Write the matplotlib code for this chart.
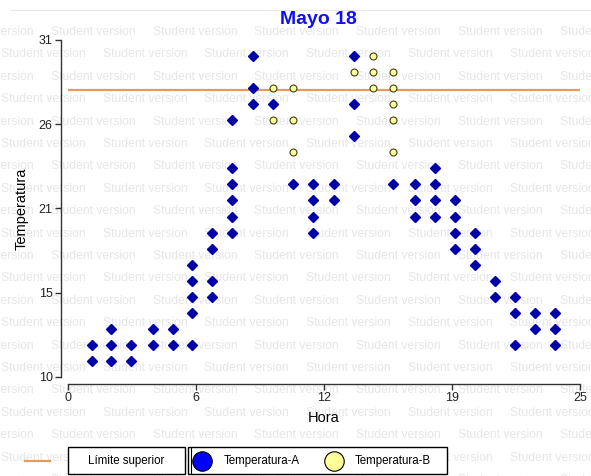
import numpy as np
import matplotlib
matplotlib.use("Agg")
import matplotlib.pyplot as plt
from matplotlib.lines import Line2D
from matplotlib.patches import Rectangle

plt.rcParams['font.family'] = ['Liberation Sans', 'DejaVu Sans']

# hora de cada grupo de lecturas
hora = [1.16, 2.10, 3.08, 4.14, 5.11, 6.07, 7.05, 8.02, 9.02, 9.99, 10.97, 11.98,
        12.99, 13.96, 14.91, 15.88, 16.93, 17.90, 18.88, 19.86, 20.83, 21.84, 22.82, 23.79]

# Temperatura-A, lecturas por hora
temp_a = [[11, 12], [11, 12, 13], [11, 12], [12, 13], [12, 13],
          [12, 14, 15, 16, 17], [15, 16, 18, 19], [19, 20, 21, 22, 23, 26],
          [27, 28, 30], [27], [22], [19, 20, 21, 22], [21, 22], [25, 27, 30],
          [], [22], [20, 21, 22], [20, 21, 22, 23], [18, 19, 20, 21],
          [17, 18, 19], [15, 16], [12, 14, 15], [13, 14], [12, 13, 14]]

# Temperatura-B, lecturas por hora
temp_b = [[], [], [], [], [], [], [], [], [], [26, 28], [24, 26, 28], [], [],
          [29], [28, 29, 30], [24, 26, 27, 28, 29], [], [], [], [], [], [], [], []]

limite_superior = 27.9

xticks = np.linspace(0, 25, 5)
xlabels = ['0', '6', '12', '19', '25']
yticks = np.linspace(10, 31, 5)
ylabels = ['10', '15', '21', '26', '31']

W, H = 591, 476
fig = plt.figure(figsize=(W / 100, H / 100), dpi=100)

# marca de agua "Student version"
wm = '#e6e6e6'
for k in range(21):
    yc = 32 + 22.4 * k
    x0 = 51 if k % 2 == 0 else 1
    x = x0 - 101.7
    while x < W:
        fig.text(x / W, 1 - yc / H, 'Student version', fontsize=8.7, color=wm,
                 va='center', ha='left', zorder=-5)
        x += 101.7

fig.add_artist(Line2D([11 / W, 1], [1 - 10 / H, 1 - 10 / H], color='#e8e8e8', lw=0.8))

ax = fig.add_axes([68 / W, 1 - 377 / H, 512 / W, 337 / H])
ax.patch.set_visible(False)
ax.set_xlim(0, 25)
ax.set_ylim(10, 31)

for s in ['top', 'right']:
    ax.spines[s].set_visible(False)
for s in ['left', 'bottom']:
    ax.spines[s].set_position(('outward', 5))
    ax.spines[s].set_color('#333333')
    ax.spines[s].set_linewidth(1.0)

ax.set_xticks(xticks, xlabels)
ax.set_yticks(yticks, ylabels)
ax.tick_params(direction='out', length=4, width=1, color='#333333',
               labelsize=9, labelcolor='#222222', pad=2)

ax.axhline(limite_superior, color='#e89a5a', lw=1.6, zorder=2)

xa = [h for h, v in zip(hora, temp_a) for _ in v]
ya = [t for v in temp_a for t in v]
xb = [h for h, v in zip(hora, temp_b) for _ in v]
yb = [t for v in temp_b for t in v]

ax.plot(xa, ya, 'D', color='#0000a8', ms=4.8, mec='#0000a8', zorder=3, clip_on=False)
ax.plot(xb, yb, 'o', color='#ffff99', ms=5.0, mec='#404010', mew=0.8, zorder=3, clip_on=False)

ax.set_xlabel('Hora', fontsize=10.5, labelpad=5)
ax.set_ylabel('Temperatura', fontsize=10.5, labelpad=7)
fig.text(318 / W, 1 - 20 / H, 'Mayo 18', fontsize=14, fontweight='bold',
         color='#1010f0', ha='center', va='center')

# leyenda manual
def fy(p):
    return 1 - p / H

fig.add_artist(Line2D([25 / W, 50 / W], [fy(461), fy(461)], color='#e89a5a', lw=1.6))
fig.add_artist(Rectangle((68 / W, fy(474)), 117 / W, 27 / H, transform=fig.transFigure,
                         facecolor='white', edgecolor='black', lw=1))
fig.text(126 / W, fy(461), 'Límite superior', fontsize=8.3, ha='center', va='center')
fig.add_artist(Rectangle((188 / W, fy(474)), 259 / W, 27 / H, transform=fig.transFigure,
                         facecolor='white', edgecolor='black', lw=1))
fig.add_artist(Line2D([191 / W, 191 / W], [fy(474), fy(447)], color='black', lw=0.8))
fig.add_artist(Line2D([202 / W], [fy(461)], marker='o', ms=14, color='#0000ff',
                      mec='black', mew=0.8, ls='none'))
fig.text(224 / W, fy(461), 'Temperatura-A', fontsize=8.3, ha='left', va='center')
fig.add_artist(Line2D([334 / W], [fy(461)], marker='o', ms=14, color='#ffff99',
                      mec='black', mew=0.8, ls='none'))
fig.text(355 / W, fy(461), 'Temperatura-B', fontsize=8.3, ha='left', va='center')

fig.savefig('out.png', dpi=100)
